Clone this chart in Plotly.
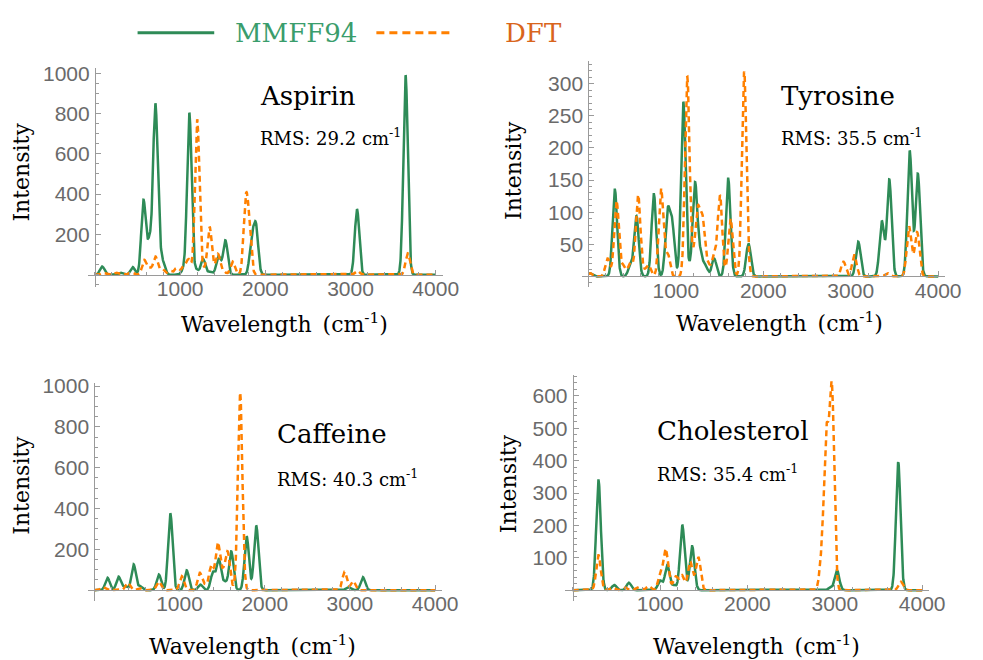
import numpy as np
import plotly.graph_objects as go

W, H = 983, 660

# ---------------- data (peak positions in cm-1, peak heights) ----------------
molecules = ["Aspirin", "Tyrosine", "Caffeine", "Cholesterol"]
rms_values = ["29.2", "35.5", "40.3", "35.4"]
series_names = ["MMFF94", "DFT"]

aspirin_mmff_pos = [85, 300, 443, 570, 640, 708, 750, 800, 1040, 1108, 1190, 1270, 1350, 1450, 1531, 1840, 1890, 3076, 3646]
aspirin_mmff_int = [41, 10, 38, 372, 196, 850, 343, 70, 50, 804, 30, 78, 15, 95, 171, 200, 258, 325, 990]
aspirin_dft_pos = [100, 250, 420, 580, 645, 712, 790, 880, 960, 1040, 1100, 1200, 1270, 1346, 1400, 1443, 1510, 1616, 1769, 1808, 3080, 3672]
aspirin_dft_int = [8, 10, 12, 73, 35, 90, 30, 20, 35, 45, 78, 771, 50, 237, 50, 103, 20, 65, 392, 300, 20, 106]

tyrosine_mmff_pos = [15, 303, 480, 550, 749, 906, 959, 1086, 1160, 1220, 1280, 1340, 1438, 1599, 1831, 3086, 3355, 3441, 3674, 3767]
tyrosine_mmff_int = [5, 135, 18, 94, 128, 106, 90, 272, 25, 147, 45, 18, 28, 152, 51, 54, 87, 151, 196, 160]
tyrosine_dft_pos = [20, 221, 322, 400, 483, 569, 632, 688, 831, 906, 1131, 1198, 1251, 1307, 1370, 1438, 1505, 1560, 1625, 1782, 2917, 3041, 3420, 3666, 3715, 3760]
tyrosine_dft_int = [5, 28, 118, 18, 23, 127, 15, 18, 137, 38, 311, 46, 110, 95, 22, 35, 126, 15, 90, 319, 23, 33, 5, 78, 35, 69]

caffeine_mmff_pos = [154, 285, 360, 461, 540, 757, 892, 1084, 1246, 1392, 1461, 1530, 1607, 1788, 1900, 2979, 3152]
caffeine_mmff_int = [61, 66, 20, 126, 20, 77, 376, 97, 27, 90, 153, 45, 190, 263, 316, 15, 64]
caffeine_dft_pos = [100, 392, 530, 757, 1026, 1238, 1300, 1373, 1449, 1510, 1565, 1640, 1711, 2937, 3037]
caffeine_dft_int = [15, 37, 10, 42, 68, 85, 30, 125, 235, 110, 190, 37, 969, 90, 45]

cholesterol_mmff_pos = [295, 475, 643, 1000, 1082, 1160, 1254, 1310, 1367, 2950, 3025, 3726]
cholesterol_mmff_int = [339, 16, 23, 30, 77, 16, 201, 28, 135, 8, 61, 395]
cholesterol_dft_pos = [295, 450, 600, 750, 870, 1000, 1063, 1110, 1180, 1250, 1343, 1395, 1439, 2850, 2901, 2935, 2969, 3756]
cholesterol_dft_int = [108, 8, 8, 10, 13, 50, 128, 38, 43, 47, 89, 50, 102, 150, 501, 540, 634, 26]

x_tick_vals = [1000, 2000, 3000, 4000]
y_tick_vals = [[200, 400, 600, 800, 1000], [50, 100, 150, 200, 250, 300],
               [200, 400, 600, 800, 1000], [100, 200, 300, 400, 500, 600]]

spectra = [
    (aspirin_mmff_pos, aspirin_mmff_int, aspirin_dft_pos, aspirin_dft_int),
    (tyrosine_mmff_pos, tyrosine_mmff_int, tyrosine_dft_pos, tyrosine_dft_int),
    (caffeine_mmff_pos, caffeine_mmff_int, caffeine_dft_pos, caffeine_dft_int),
    (cholesterol_mmff_pos, cholesterol_mmff_int, cholesterol_dft_pos, cholesterol_dft_int),
]

# ---------------- style / layout ----------------
GREEN = "#2E8B57"
ORANGE = "#FF8000"
LEG_GREEN = "#3A9D6C"
LEG_ORANGE = "#D9651C"
AXIS_GRAY = "#9a9a9a"
TICK_FONT = dict(family="Liberation Sans", size=21, color="#6a6a6a")
SERIF = "DejaVu Serif"
SIGMA = 26.0
xgrid = np.arange(0, 4001, 2.0)

# pixel geometry per panel: x0px, px-per-unit x, y0px, px-per-unit y, x range, y range, minor y dtick
panels = [
    dict(x0=96.6, sx=0.0867, y0=270.0, sy=0.204, xr=[-80, 4080], yr=[-60, 1025], ym=50),
    dict(x0=598.7, sx=0.089, y0=271.7, sy=0.65, xr=[-77, 4080], yr=[-17, 336], ym=10),
    dict(x0=96.0, sx=0.0867, y0=589.3, sy=0.2066, xr=[-70, 4080], yr=[-52, 1017], ym=50),
    dict(x0=582.8, sx=0.0889, y0=589.3, sy=0.3277, xr=[-88, 4075], yr=[-35, 664], ym=20),
]
# annotation positions (px): name left x, name y, rms y, intensity title x/y, wavelength title x/y
text_pos = [
    dict(lx=263, ny=89, ry=131, ix=22, iy=166, wx=290, wy=319),
    dict(lx=793, ny=89, ry=131, ix=522, iy=164, wx=793, wy=318),
    dict(lx=280, ny=431, ry=476, ix=22, iy=483, wx=257, wy=645),
    dict(lx=667, ny=428, ry=471, ix=517, iy=482, wx=770, wy=645),
]


def px(x):
    return x / W


def py(y):
    return 1 - y / H


def spectrum(pos, heights):
    pos = np.asarray(pos, float)
    h = np.asarray(heights, float)
    A = np.exp(-((pos[:, None] - pos[None, :]) ** 2) / (2 * SIGMA ** 2))
    amp = np.clip(np.linalg.solve(A, h), 0, None)
    return (amp[None, :] * np.exp(-((xgrid[:, None] - pos[None, :]) ** 2) / (2 * SIGMA ** 2))).sum(axis=1)


fig = go.Figure()
annotations = []
for i, (p, t) in enumerate(zip(panels, text_pos)):
    n = i + 1
    xa = "x" if n == 1 else f"x{n}"
    ya = "y" if n == 1 else f"y{n}"
    mp, mi, dp, di = spectra[i]
    fig.add_trace(go.Scatter(x=xgrid, y=spectrum(mp, mi), mode="lines", name=series_names[0],
                             line=dict(color=GREEN, width=2.5), xaxis=xa, yaxis=ya, showlegend=False))
    fig.add_trace(go.Scatter(x=xgrid, y=spectrum(dp, di), mode="lines", name=series_names[1],
                             line=dict(color=ORANGE, width=2.5, dash="6px,4px"), xaxis=xa, yaxis=ya,
                             showlegend=False))
    dx = [px(p["x0"] + p["xr"][0] * p["sx"]), px(p["x0"] + p["xr"][1] * p["sx"])]
    dy = [py(p["y0"] - p["yr"][0] * p["sy"]), py(p["y0"] - p["yr"][1] * p["sy"])]
    xkey = "xaxis" if n == 1 else f"xaxis{n}"
    ykey = "yaxis" if n == 1 else f"yaxis{n}"
    fig.update_layout(**{
        xkey: dict(domain=dx, range=p["xr"], anchor="free", position=py(p["y0"]),
                   showline=True, linecolor=AXIS_GRAY, linewidth=1, showgrid=False, zeroline=False,
                   tickmode="array", tickvals=x_tick_vals, ticks="inside", ticklen=5, tickcolor=AXIS_GRAY,
                   tickfont=TICK_FONT, ticklabelstandoff=-5,
                   minor=dict(ticks="inside", ticklen=3, tickcolor=AXIS_GRAY, dtick=200, tick0=0)),
        ykey: dict(domain=dy, range=p["yr"], anchor="free", position=px(p["x0"]),
                   showline=True, linecolor=AXIS_GRAY, linewidth=1, showgrid=False, zeroline=False,
                   tickmode="array", tickvals=y_tick_vals[i], ticks="inside", ticklen=5, tickcolor=AXIS_GRAY,
                   tickfont=TICK_FONT, ticklabelstandoff=1,
                   minor=dict(ticks="inside", ticklen=3, tickcolor=AXIS_GRAY, dtick=p["ym"], tick0=0)),
    })
    annotations += [
        dict(x=px(t["lx"]), y=py(t["ny"]), text=molecules[i], xanchor="left", yanchor="middle",
             font=dict(family=SERIF, size=26, color="black")),
        dict(x=px(t["lx"]), y=py(t["ry"]), text=f"RMS: {rms_values[i]} cm<sup>-1</sup>", xanchor="left",
             yanchor="middle", font=dict(family=SERIF, size=18, color="black")),
        dict(x=px(t["ix"]), y=py(t["iy"]), text="Intensity", textangle=-90, xanchor="center",
             yanchor="middle", font=dict(family=SERIF, size=22, color="black")),
        dict(x=px(t["wx"]), y=py(t["wy"]), text="Wavelength\u2002(cm<sup>-1</sup>)", xanchor="center",
             yanchor="middle", font=dict(family=SERIF, size=22, color="black")),
    ]

# legend (drawn manually)
annotations += [
    dict(x=px(301), y=py(25), text=series_names[0], xanchor="center", yanchor="middle",
         font=dict(family=SERIF, size=26, color=LEG_GREEN)),
    dict(x=px(543), y=py(25), text=series_names[1], xanchor="center", yanchor="middle",
         font=dict(family=SERIF, size=26, color=LEG_ORANGE)),
]
for a in annotations:
    a.update(xref="paper", yref="paper", showarrow=False)

shapes = [
    dict(type="line", xref="paper", yref="paper", x0=px(140), x1=px(218), y0=py(25), y1=py(25),
         line=dict(color=GREEN, width=3)),
    dict(type="line", xref="paper", yref="paper", x0=px(383), x1=px(461), y0=py(25), y1=py(25),
         line=dict(color=ORANGE, width=3, dash="8px,5px")),
]

fig.update_layout(width=W, height=H, margin=dict(l=0, r=0, t=0, b=0), paper_bgcolor="white",
                  plot_bgcolor="white", annotations=annotations, shapes=shapes, showlegend=False)
fig.write_html("out.html")
